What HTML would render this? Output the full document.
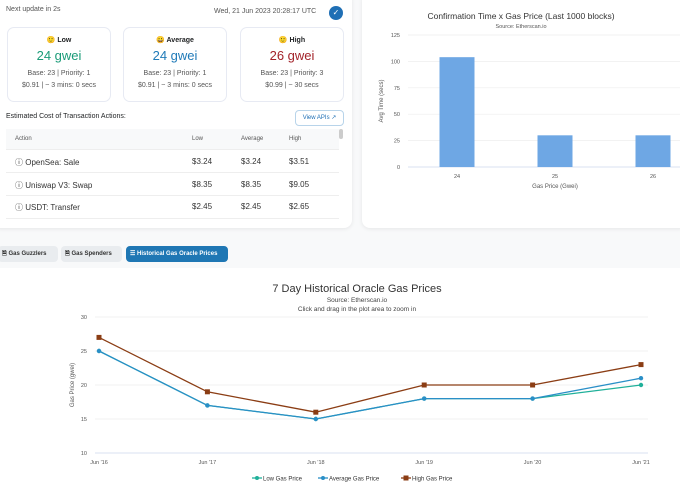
<!DOCTYPE html>
<html><head><meta charset="utf-8">
<style>
body{margin:0;width:680px;height:490px;overflow:hidden;background:#f8f9fa;font-family:"Liberation Sans",sans-serif;position:relative;color:#1e2022}
.abs{position:absolute}
.card{position:absolute;background:#fff;border-radius:8px;box-shadow:0 1px 4px rgba(0,0,0,.08)}
.gcard{position:absolute;top:27px;width:102px;height:73px;border:1px solid #e7eaf3;border-radius:7px;background:#fff;text-align:center}
.gcard .t{font-size:7px;font-weight:bold;margin-top:8px}
.gcard .v{font-size:13px;margin-top:4px}
.gcard .s{font-size:7px;color:#555;margin-top:5px;line-height:12px}
.th{position:absolute;font-size:6px;color:#555}
.td{position:absolute;font-size:8px;color:#333}
.tab{position:absolute;top:246px;height:16px;border-radius:4px;font-size:6px;font-weight:bold;line-height:16px;padding:0 4px;background:#e9ecef;color:#333}
svg text{font-family:"Liberation Sans",sans-serif}
</style></head><body>
<div class="card" style="left:-8px;top:-8px;width:360px;height:236px"></div>
<div class="card" style="left:362px;top:-8px;width:326px;height:236px"></div>
<div class="abs" style="left:0;top:268px;width:680px;height:222px;background:#fff"></div>

<div class="abs" style="left:6px;top:6px;font-size:7px;color:#555">Next update in 2s</div>
<div class="abs" style="left:214px;top:8px;font-size:7px;color:#555">Wed, 21 Jun 2023 20:28:17 UTC</div>
<div class="abs" style="left:329px;top:6px;width:14px;height:14px;border-radius:50%;background:#1f6fb5;color:#fff;font-size:8px;text-align:center;line-height:14px">✓</div>

<div class="gcard" style="left:7px"><div class="t">🙂 Low</div><div class="v" style="color:#1a9b78">24 gwei</div><div class="s">Base: 23 | Priority: 1<br>$0.91 | ~ 3 mins: 0 secs</div></div>
<div class="gcard" style="left:123px"><div class="t">😀 Average</div><div class="v" style="color:#1f7ab8">24 gwei</div><div class="s">Base: 23 | Priority: 1<br>$0.91 | ~ 3 mins: 0 secs</div></div>
<div class="gcard" style="left:240px"><div class="t">🙂 High</div><div class="v" style="color:#a3232a">26 gwei</div><div class="s">Base: 23 | Priority: 3<br>$0.99 | ~ 30 secs</div></div>

<div class="abs" style="left:6px;top:113px;font-size:7px">Estimated Cost of Transaction Actions:</div>
<div class="abs" style="left:295px;top:110px;width:47px;height:14px;border:1px solid #b8d4ea;border-radius:4px;font-size:6px;color:#1f6fb5;text-align:center;line-height:14px">View APIs ↗</div>
<div class="abs" style="left:6px;top:129px;width:333px;height:20px;background:#f8f9fa"></div>
<div class="th" style="left:15px;top:136px">Action</div>
<div class="th" style="left:192px;top:136px">Low</div>
<div class="th" style="left:241px;top:136px">Average</div>
<div class="th" style="left:289px;top:136px">High</div>
<div class="abs" style="left:339px;top:129px;width:4px;height:10px;background:#ccc;border-radius:2px"></div>
<div class="abs" style="left:6px;top:172px;width:333px;height:1px;background:#eee"></div>
<div class="abs" style="left:6px;top:195px;width:333px;height:1px;background:#eee"></div>
<div class="abs" style="left:6px;top:149px;width:333px;height:1px;background:#eee"></div>
<div class="abs" style="left:6px;top:218px;width:333px;height:1px;background:#eee"></div>
<div class="td" style="left:15px;top:157px">ⓘ OpenSea: Sale</div>
<div class="td" style="left:192px;top:157px">$3.24</div><div class="td" style="left:241px;top:157px">$3.24</div><div class="td" style="left:289px;top:157px">$3.51</div>
<div class="td" style="left:15px;top:180px">ⓘ Uniswap V3: Swap</div>
<div class="td" style="left:192px;top:180px">$8.35</div><div class="td" style="left:241px;top:180px">$8.35</div><div class="td" style="left:289px;top:180px">$9.05</div>
<div class="td" style="left:15px;top:202px">ⓘ USDT: Transfer</div>
<div class="td" style="left:192px;top:202px">$2.45</div><div class="td" style="left:241px;top:202px">$2.45</div><div class="td" style="left:289px;top:202px">$2.65</div>

<div class="tab" style="left:-2px;width:52px">🗎 Gas Guzzlers</div>
<div class="tab" style="left:61px;width:53px">🗎 Gas Spenders</div>
<div class="tab" style="left:126px;width:94px;background:#1f77b4;color:#fff">☰ Historical Gas Oracle Prices</div>

<svg id="ov" class="abs" style="left:0;top:0" width="680" height="490"></svg>
<script>
const barCats=["24","25","26"];
const barVals=[104,30,30];
const barTicks=[0,25,50,75,100,125];
const lineCats=["Jun '16","Jun '17","Jun '18","Jun '19","Jun '20","Jun '21"];
const lowVals=[25,17,15,18,18,20];
const avgVals=[25,17,15,18,18,21];
const highVals=[27,19,16,20,20,23];
const lineTicks=[10,15,20,25,30];
const NS="http://www.w3.org/2000/svg",svg=document.getElementById('ov');
function mk(t,a,txt){const e=document.createElementNS(NS,t);for(const k in a)e.setAttribute(k,a[k]);if(txt!=null)e.textContent=txt;svg.appendChild(e);return e;}
const by=v=>167-v*(132/125), bx=i=>457+i*98;
let e=mk('text',{x:521,y:19,'font-size':8.5,'text-anchor':'middle',fill:'#333'},'Confirmation Time x Gas Price (Last 1000 blocks)');

mk('text',{x:521,y:28,'font-size':5.5,'text-anchor':'middle',fill:'#555'},'Source: Etherscan.io');
barTicks.forEach(t=>{e=mk('line',{x1:408,x2:680,y1:by(t),y2:by(t),stroke:t?'#eee':'#ccd6eb','stroke-width':0.7});

e=mk('text',{x:400,y:by(t)+2,'font-size':5.5,'text-anchor':'end',fill:'#555'},t);
});
barVals.forEach((v,i)=>{e=mk('rect',{x:bx(i)-17.5,y:by(v),width:35,height:167-by(v),fill:'#6ea7e4'});

e=mk('text',{x:bx(i),y:178,'font-size':5.5,'text-anchor':'middle',fill:'#555'},barCats[i]);
});
mk('text',{x:555,y:188,'font-size':6,'text-anchor':'middle',fill:'#555'},'Gas Price (Gwei)');
mk('text',{x:0,y:0,'font-size':6,'text-anchor':'middle',fill:'#555',transform:'translate(383,101) rotate(-90)'},'Avg Time (secs)');
const ly=v=>453-(v-10)*(136/20), lx=i=>99+i*108.4;
e=mk('text',{x:357,y:292,'font-size':11,'text-anchor':'middle',fill:'#333'},'7 Day Historical Oracle Gas Prices');

mk('text',{x:357,y:302,'font-size':6.5,'text-anchor':'middle',fill:'#444'},'Source: Etherscan.io');
mk('text',{x:357,y:311,'font-size':6.5,'text-anchor':'middle',fill:'#444'},'Click and drag in the plot area to zoom in');
lineTicks.forEach(t=>{e=mk('line',{x1:95,x2:648,y1:ly(t),y2:ly(t),stroke:t==10?'#ccd6eb':'#eee','stroke-width':0.7});

e=mk('text',{x:87,y:ly(t)+2,'font-size':5.5,'text-anchor':'end',fill:'#555'},t);
});
lineCats.forEach((c,i)=>{e=mk('text',{x:lx(i),y:464,'font-size':5.5,'text-anchor':'middle',fill:'#555'},c);
});
mk('text',{x:0,y:0,'font-size':6,'text-anchor':'middle',fill:'#555',transform:'translate(74,385) rotate(-90)'},'Gas Price (gwei)');
const series=[[lowVals,'#20b09a','low'],[avgVals,'#2a8fc7','average'],[highVals,'#8b3d14','high']];
series.forEach(([vals,col,nm])=>{
 e=mk('polyline',{points:vals.map((v,i)=>lx(i)+','+ly(v)).join(' '),fill:'none',stroke:col,'stroke-width':1.3});
 
 vals.forEach((v,i)=>{e=nm=='high'?mk('rect',{x:lx(i)-2.5,y:ly(v)-2.5,width:5,height:5,fill:col}):mk('circle',{cx:lx(i),cy:ly(v),r:2.2,fill:col});
 });
});
const leg=[['Low Gas Price','#20b09a',257],['Average Gas Price','#2a8fc7',323],['High Gas Price','#8b3d14',406]];
leg.forEach(([t,c,x],k)=>{e=mk('line',{x1:x-5,x2:x+5,y1:478,y2:478,stroke:c,'stroke-width':1.3});

if(k==2)mk('rect',{x:x-2.5,y:475.5,width:5,height:5,fill:c});else mk('circle',{cx:x,cy:478,r:2,fill:c});
mk('text',{x:x+6,y:480.5,'font-size':6,fill:'#333'},t);});
</script>
</body></html>
